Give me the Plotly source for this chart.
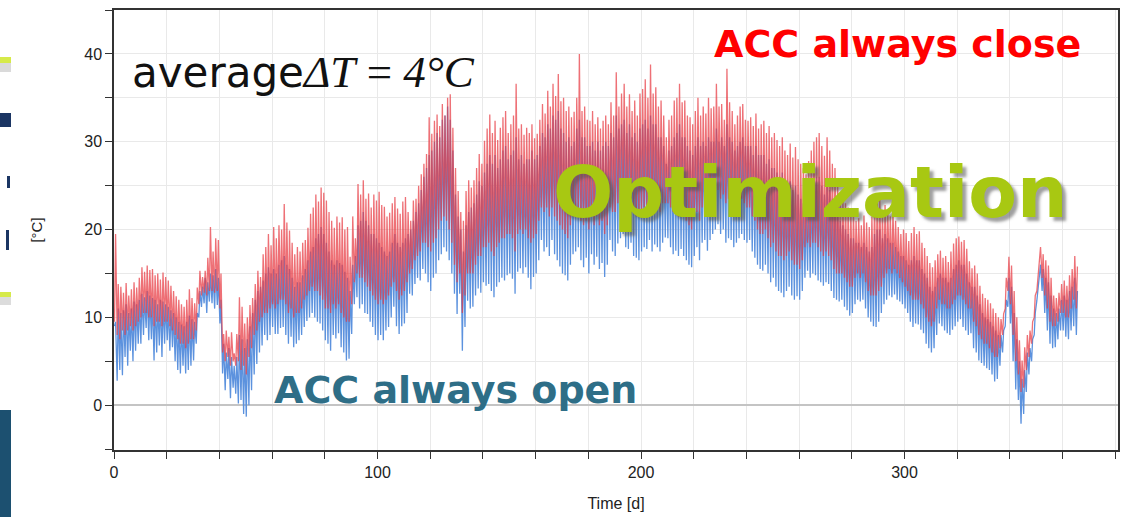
import plotly.graph_objects as go

# ---------------- data (daily extremes) ----------------
red_hi = [
    19.5, 13.8, 13.5, 12.8, 13.9, 12.5, 13.2, 14.0, 13.4, 14.5,
    15.7, 15.2, 15.9, 15.4, 15.5, 14.8, 15.0, 14.3, 15.1, 14.6,
    14.2, 13.6, 13.0, 12.4, 12.0, 11.5, 11.2, 12.0, 13.2, 12.2,
    11.6, 13.4, 15.3, 14.6, 15.3, 16.8, 20.3, 17.5, 19.0, 18.8,
    15.0, 8.1, 8.5, 7.8, 8.3, 5.9, 8.1, 12.3, 11.2, 9.3,
    10.0, 11.4, 12.2, 13.8, 15.3, 14.6, 17.2, 18.0, 19.5, 18.2,
    20.3, 19.0, 20.5, 20.0, 22.9, 20.8, 19.9, 18.5, 17.2, 18.0,
    17.5, 18.5, 18.8, 20.2, 21.8, 22.5, 24.0, 23.2, 24.8, 24.2,
    23.3, 22.0, 21.0, 20.2, 21.5, 20.8, 21.4, 20.0, 20.3, 16.9,
    21.5, 19.0, 25.2, 24.0, 25.6, 23.5, 24.1, 22.5, 24.0, 23.3,
    24.3, 22.8, 22.6, 21.5, 21.9, 23.0, 23.7, 22.4, 21.8, 23.2,
    23.7, 22.0, 21.0, 23.3, 23.5, 25.0, 26.3, 27.5, 28.6, 32.8,
    30.9, 32.4, 33.1, 31.8, 34.3, 33.0, 35.0, 35.4, 31.6, 27.0,
    24.4, 22.0, 21.0, 24.4, 25.6, 24.8, 25.6, 27.0, 28.6, 27.5,
    30.1, 31.5, 33.1, 31.0, 32.4, 30.2, 31.6, 32.8, 33.5, 31.0,
    32.0, 33.0, 36.6, 31.5, 32.0, 30.8, 31.6, 31.0, 32.0, 30.4,
    30.9, 32.5, 34.3, 33.2, 35.8, 34.0, 36.6, 35.2, 37.7, 34.6,
    35.0, 33.5, 34.0, 32.8, 33.4, 35.0, 40.0, 33.5, 34.0, 32.5,
    32.4, 33.5, 32.0, 32.8, 31.5, 32.4, 33.0, 32.0, 34.5, 33.0,
    37.9, 34.0, 35.5, 36.6, 34.0, 35.4, 33.5, 34.7, 33.0, 35.5,
    36.0, 37.1, 35.0, 38.8, 35.5, 36.2, 34.0, 34.7, 33.0, 30.5,
    32.5, 33.0, 34.7, 35.0, 36.6, 34.5, 34.7, 33.0, 32.8, 32.0,
    33.5, 35.0, 33.0, 34.0, 33.2, 35.0, 33.8, 34.0, 36.6, 34.0,
    34.3, 32.5, 38.3, 34.5, 33.5, 32.0, 33.0, 34.0, 34.3, 32.5,
    32.4, 32.8, 31.8, 33.2, 31.5, 32.0, 32.4, 31.0, 31.8, 30.5,
    31.0, 30.2, 29.5, 30.5, 29.0, 28.5, 29.8, 28.2, 29.4, 28.0,
    27.5, 27.0, 26.3, 27.8, 29.0, 30.0, 30.5, 31.0, 29.5, 28.4,
    30.5, 29.0, 27.5, 27.0, 25.5, 24.0, 23.5, 23.0, 22.5, 21.8,
    22.0, 21.0, 21.3, 20.5, 21.6, 20.8, 20.3, 21.5, 23.0, 24.0,
    23.5, 22.0, 22.8, 22.3, 21.5, 22.0, 21.0, 20.3, 19.5, 20.0,
    19.6, 18.7, 19.6, 20.3, 19.5, 19.8, 18.5, 17.9, 17.0, 16.2,
    15.7, 16.5, 17.2, 17.6, 16.8, 17.0, 16.3, 17.5, 18.4, 19.0,
    19.2, 18.6, 18.8, 17.8, 16.4, 15.6, 15.9, 15.0, 13.6, 12.7,
    12.2, 12.0, 11.6, 11.0, 10.5, 10.0, 9.8, 10.4, 14.5, 16.9,
    15.9, 13.0, 10.0, 7.4, 5.1, 6.6, 8.0, 8.5, 9.5, 12.5,
    14.5, 18.0, 17.2, 16.5, 15.9, 14.5, 12.5, 12.2, 12.8, 13.8,
    14.2, 13.6, 14.8, 15.5, 17.0, 15.8,
]

red_lo = [
    9.5, 8.0, 7.5, 8.5, 8.0, 8.5, 9.0, 8.5, 9.0, 9.5,
    10.0, 10.5, 10.5, 10.0, 10.0, 9.0, 9.5, 9.5, 9.0, 9.5,
    9.5, 9.0, 8.5, 8.0, 7.5, 7.0, 7.0, 6.5, 7.0, 7.5,
    7.5, 8.5, 11.5, 12.5, 12.8, 12.5, 13.0, 13.0, 12.8, 13.0,
    11.0, 6.0, 5.0, 5.5, 4.5, 5.0, 4.5, 5.0, 4.0, 4.5,
    3.5, 5.5, 6.5, 8.0, 8.5, 9.5, 10.0, 10.5, 10.5, 11.0,
    11.5, 11.0, 11.5, 12.0, 12.0, 11.5, 10.5, 11.0, 10.0, 10.5,
    10.5, 11.0, 12.0, 12.5, 13.0, 13.5, 13.0, 13.0, 12.5, 12.0,
    11.0, 11.0, 10.5, 11.5, 11.0, 11.5, 10.5, 10.0, 9.5, 9.5,
    11.5, 14.0, 15.0, 14.5, 14.5, 14.0, 13.5, 13.0, 12.5, 12.0,
    11.5, 12.0, 11.5, 12.0, 12.5, 13.5, 14.0, 13.0, 12.0, 12.5,
    13.0, 14.0, 15.0, 15.5, 16.5, 17.0, 17.5, 18.5, 18.5, 18.0,
    17.5, 18.5, 19.0, 20.0, 21.0, 21.5, 21.0, 20.0, 18.5, 16.0,
    14.0, 15.0, 10.5, 12.5, 15.0, 15.0, 15.0, 16.0, 17.0, 17.0,
    18.0, 18.0, 18.5, 17.5, 17.0, 18.0, 18.5, 19.0, 19.0, 19.5,
    19.5, 19.0, 17.5, 19.5, 20.0, 19.5, 20.0, 19.0, 18.5, 19.0,
    19.5, 21.0, 22.5, 22.0, 22.5, 21.5, 22.5, 21.5, 21.0, 20.5,
    20.0, 19.5, 19.0, 20.5, 21.5, 22.0, 22.5, 21.0, 20.5, 21.0,
    20.0, 21.5, 20.5, 21.5, 20.5, 21.0, 19.5, 20.5, 22.5, 22.0,
    22.0, 23.0, 23.5, 24.0, 22.5, 22.5, 23.0, 22.0, 21.5, 21.5,
    22.0, 22.5, 22.5, 23.0, 22.0, 23.0, 22.5, 22.0, 23.0, 23.0,
    23.0, 22.5, 22.0, 22.0, 21.5, 22.0, 21.5, 21.0, 20.5, 20.0,
    21.5, 22.0, 21.0, 22.5, 23.0, 22.0, 23.0, 23.5, 24.0, 24.5,
    23.5, 24.0, 23.0, 23.5, 23.0, 22.5, 22.5, 23.0, 23.5, 23.0,
    22.5, 22.5, 21.5, 21.0, 20.0, 19.5, 19.5, 20.0, 19.0, 18.0,
    18.5, 17.5, 17.0, 17.0, 16.5, 17.0, 17.5, 16.5, 16.0, 16.0,
    15.5, 16.5, 18.0, 18.5, 18.0, 18.5, 18.5, 18.0, 17.5, 17.0,
    17.5, 17.0, 16.5, 15.5, 15.0, 15.0, 15.0, 14.5, 14.0, 13.5,
    13.5, 14.5, 15.0, 14.5, 15.0, 14.0, 13.0, 12.5, 12.5, 12.5,
    13.0, 13.5, 14.5, 15.0, 15.5, 15.0, 15.5, 15.0, 14.5, 14.0,
    13.5, 13.0, 12.5, 12.0, 12.0, 12.0, 11.5, 11.0, 10.0, 9.5,
    9.0, 9.5, 11.0, 12.0, 11.5, 11.5, 11.0, 11.0, 11.5, 12.0,
    12.5, 12.5, 12.0, 11.5, 11.0, 11.0, 9.5, 9.0, 8.0, 7.5,
    7.0, 7.0, 6.5, 6.0, 5.5, 5.5, 6.5, 8.0, 11.0, 13.0,
    11.5, 8.0, 5.0, 3.5, 1.5, 2.0, 4.0, 5.5, 7.0, 10.0,
    13.0, 16.0, 14.5, 12.5, 11.0, 9.5, 9.0, 9.0, 9.5, 10.5,
    10.5, 10.0, 10.0, 11.0, 12.0, 11.0,
]

blue_hi = [
    9.5, 11.0, 10.5, 10.8, 11.5, 10.5, 11.0, 11.8, 11.5, 12.0,
    12.7, 12.3, 13.0, 12.5, 12.2, 12.0, 11.5, 12.0, 11.8, 11.5,
    11.2, 10.8, 10.5, 10.0, 9.5, 9.2, 9.0, 9.5, 10.2, 9.8,
    9.5, 10.5, 13.0, 13.5, 14.5, 14.0, 15.0, 14.8, 15.5, 14.5,
    12.0, 7.0, 6.0, 6.5, 5.5, 4.5, 5.5, 8.0, 7.5, 6.5,
    7.5, 9.0, 10.5, 12.0, 13.0, 13.5, 14.2, 15.0, 15.7, 15.0,
    15.5, 15.0, 16.0, 16.5, 17.0, 16.0, 15.5, 14.5, 13.5, 14.0,
    14.0, 14.8, 15.5, 16.5, 17.5, 18.0, 19.0, 19.5, 20.3, 19.5,
    18.5, 17.5, 16.5, 16.0, 16.5, 16.2, 16.0, 15.2, 14.5, 13.0,
    16.0, 17.0, 20.5, 21.0, 22.0, 21.0, 20.5, 19.5, 19.5, 19.0,
    18.5, 18.0, 17.5, 17.0, 17.5, 18.5, 19.5, 18.5, 18.0, 18.5,
    19.0, 19.5, 20.0, 21.0, 22.0, 23.0, 24.5, 26.0, 27.0, 28.5,
    29.0, 30.0, 31.0, 30.5, 32.5, 33.0, 34.0, 32.5, 29.0, 24.0,
    21.5, 20.0, 17.5, 20.5, 22.0, 22.5, 23.0, 24.0, 25.5, 25.0,
    26.5, 27.5, 28.5, 27.5, 28.5, 27.0, 28.0, 29.0, 29.5, 28.0,
    28.5, 29.0, 30.5, 28.0, 28.5, 27.5, 28.0, 28.0, 29.0, 28.0,
    28.5, 29.5, 31.0, 30.5, 32.0, 31.5, 33.0, 32.5, 33.5, 31.5,
    31.0, 30.0, 30.5, 29.5, 30.0, 31.5, 32.5, 30.5, 30.5, 29.5,
    29.5, 30.0, 29.0, 30.0, 29.0, 29.5, 30.0, 29.5, 31.0, 30.5,
    33.0, 31.5, 32.0, 32.5, 31.0, 32.0, 30.5, 31.0, 30.0, 31.5,
    32.0, 32.5, 31.5, 33.0, 32.0, 32.0, 30.5, 30.5, 29.5, 27.5,
    29.0, 29.5, 30.5, 31.0, 32.0, 30.5, 30.5, 29.5, 29.0, 28.5,
    29.5, 30.5, 29.5, 30.0, 29.5, 30.5, 30.0, 30.0, 31.5, 30.0,
    30.5, 29.5, 32.0, 30.5, 30.0, 29.0, 29.5, 30.0, 30.5, 29.5,
    29.5, 29.5, 28.5, 29.5, 28.5, 28.5, 28.5, 27.5, 28.0, 27.0,
    27.0, 26.5, 26.0, 26.5, 25.5, 25.0, 25.5, 24.5, 25.0, 24.0,
    23.5, 23.0, 22.5, 23.5, 24.5, 25.5, 26.0, 26.0, 25.0, 24.0,
    25.5, 24.5, 23.5, 23.0, 22.0, 21.0, 20.5, 20.0, 19.5, 19.0,
    19.0, 18.5, 18.5, 18.0, 18.5, 18.0, 17.5, 18.0, 19.5, 20.0,
    20.0, 19.0, 19.5, 19.0, 18.5, 18.5, 18.0, 17.5, 17.0, 17.0,
    16.5, 16.0, 16.5, 17.0, 16.5, 16.5, 15.5, 15.0, 14.5, 13.5,
    13.0, 13.5, 14.5, 15.0, 14.5, 14.5, 14.0, 14.5, 15.5, 16.0,
    16.5, 16.0, 16.0, 15.0, 14.0, 13.5, 13.5, 12.5, 11.5, 10.5,
    10.0, 9.8, 9.5, 9.0, 8.5, 8.0, 8.0, 8.5, 12.0, 14.5,
    13.5, 10.5, 7.5, 5.0, 3.0, 4.0, 6.0, 6.5, 7.5, 10.5,
    13.0, 16.0, 15.5, 14.5, 14.0, 12.5, 11.0, 10.5, 11.0, 12.0,
    12.5, 12.0, 13.0, 13.5, 14.5, 13.0,
]

blue_lo = [
    9.0, 2.8, 4.0, 3.4, 5.5, 4.5, 6.2, 5.0, 6.2, 7.0,
    7.0, 8.0, 8.8, 7.4, 7.5, 5.1, 6.0, 6.8, 5.5, 7.0,
    7.4, 6.2, 6.6, 5.0, 4.0, 3.6, 4.5, 3.6, 4.0, 4.5,
    5.1, 7.0, 10.0, 11.2, 11.6, 10.5, 11.8, 11.6, 11.0, 11.4,
    9.3, 3.6, 1.7, 3.0, 0.8, 2.0, 1.3, 0.2, 0.6, -1.0,
    -1.3, 0.0, 1.7, 3.5, 4.7, 6.0, 6.8, 8.0, 7.4, 8.0,
    8.9, 8.1, 8.1, 8.8, 8.9, 8.0, 7.0, 7.8, 6.6, 7.0,
    7.4, 8.0, 8.9, 9.6, 10.0, 10.5, 10.0, 9.5, 9.3, 8.5,
    7.4, 7.0, 6.2, 8.0, 7.6, 8.2, 6.6, 6.0, 5.1, 5.3,
    8.1, 11.5, 12.3, 11.0, 11.5, 10.5, 10.4, 9.5, 8.9, 8.0,
    7.4, 8.0, 7.4, 8.5, 8.9, 10.0, 11.2, 9.0, 8.1, 9.0,
    9.3, 10.5, 12.7, 12.5, 13.8, 14.5, 14.2, 15.5, 15.0, 14.0,
    13.0, 14.5, 15.0, 16.5, 17.2, 18.0, 17.5, 16.5, 15.0, 12.7,
    10.4, 12.7, 6.2, 8.9, 11.9, 11.0, 11.2, 12.5, 13.3, 12.8,
    14.0, 13.6, 13.8, 13.0, 12.3, 13.5, 14.0, 14.5, 14.2, 14.8,
    15.0, 14.4, 12.7, 15.2, 15.6, 15.0, 15.7, 14.5, 13.2, 14.6,
    15.0, 16.5, 18.8, 17.5, 18.0, 17.0, 18.8, 17.2, 16.5, 15.8,
    15.0, 14.8, 14.2, 16.0, 17.2, 17.5, 18.0, 16.5, 15.7, 16.8,
    15.0, 17.2, 16.0, 16.9, 15.5, 16.2, 14.6, 16.0, 18.8, 17.5,
    17.0, 18.4, 19.0, 19.5, 18.0, 17.8, 18.5, 17.0, 16.8, 16.5,
    17.5, 18.0, 17.8, 18.8, 17.5, 18.3, 18.0, 17.5, 18.5, 19.1,
    19.0, 18.0, 17.2, 17.6, 17.0, 17.8, 17.0, 16.5, 16.0, 15.7,
    17.0, 18.0, 16.5, 18.5, 18.8, 17.6, 18.8, 19.5, 20.0, 20.6,
    19.5, 20.0, 18.5, 19.0, 18.8, 18.0, 18.5, 19.0, 19.5, 18.8,
    18.5, 18.8, 17.5, 16.8, 16.0, 15.5, 15.3, 16.0, 15.0, 14.0,
    14.5, 13.5, 13.0, 12.8, 12.3, 13.0, 13.5, 12.5, 12.0, 12.4,
    12.0, 13.0, 14.5, 15.3, 14.5, 15.0, 14.8, 14.2, 14.0, 13.6,
    14.0, 13.8, 13.0, 12.2, 12.0, 11.8, 12.0, 11.2, 10.8, 10.2,
    10.5, 11.5, 12.0, 11.8, 12.0, 11.0, 10.0, 9.5, 9.0, 8.9,
    9.5, 10.5, 11.5, 12.0, 12.5, 12.3, 12.6, 12.0, 11.8, 11.5,
    11.0, 10.5, 9.5, 8.9, 9.3, 9.2, 8.6, 8.2, 7.0, 6.5,
    6.0, 6.5, 8.0, 9.3, 9.0, 8.5, 8.2, 8.0, 8.6, 9.0,
    9.5, 9.8, 8.9, 8.5, 8.0, 8.2, 6.5, 6.0, 5.1, 4.8,
    4.5, 4.2, 4.0, 3.5, 2.7, 3.0, 4.5, 6.0, 9.0, 11.2,
    9.3, 5.0, 1.8, 0.6, -2.1, -1.0, 1.5, 3.5, 5.0, 8.0,
    11.9, 15.0, 13.0, 10.5, 8.5, 7.0, 6.5, 6.6, 7.5, 8.5,
    8.5, 7.8, 7.5, 8.5, 9.0, 8.0,
]

x_ticks = [0, 100, 200, 300]
y_ticks = [0, 10, 20, 30, 40]


def day_profile(lo, hi):
    """One low (early morning) and one high (afternoon) sample per day."""
    xs, ys = [], []
    for d, (a, b) in enumerate(zip(lo, hi)):
        xs += [d + 0.2, d + 0.6]
        ys += [a, b]
    return xs, ys


bx, by = day_profile(blue_lo, blue_hi)
rx, ry = day_profile(red_lo, red_hi)

fig = go.Figure()
fig.add_trace(go.Scatter(x=bx, y=by, mode="lines",
                         line=dict(color="rgb(92,146,222)", width=1.3),
                         name="ACC always open", showlegend=False))
fig.add_trace(go.Scatter(x=rx, y=ry, mode="lines",
                         line=dict(color="rgb(232,58,66)", width=1.3),
                         opacity=0.72,
                         name="ACC always close", showlegend=False))

grid = "#e9e9e9"
sans = "Liberation Sans, Arial, sans-serif"
tickfont = dict(family=sans, size=16, color="#222")

fig.update_layout(
    width=1122, height=517,
    margin=dict(l=114, r=4, t=10, b=67, autoexpand=False),
    paper_bgcolor="white", plot_bgcolor="white",
    xaxis=dict(
        range=[0, 381], tickvals=x_ticks, ticks="outside", ticklen=7,
        tickcolor="#333", showgrid=True, gridcolor=grid,
        minor=dict(dtick=20, tick0=0, ticks="outside", ticklen=7,
                   tickcolor="#333", showgrid=True, gridcolor=grid),
        showline=True, linecolor="#333", linewidth=1.5, mirror=True,
        zeroline=False, tickfont=tickfont, automargin=False,
        title=dict(text="Time [d]", font=dict(family=sans, size=16, color="#222"),
                   standoff=18),
    ),
    yaxis=dict(
        range=[-5.1, 45], tickvals=y_ticks, ticks="outside", ticklen=7,
        tickcolor="#333", showgrid=True, gridcolor=grid,
        minor=dict(dtick=5, tick0=0, ticks="outside", ticklen=7,
                   tickcolor="#333", showgrid=True, gridcolor=grid),
        showline=True, linecolor="#333", linewidth=1.5, mirror=True,
        zeroline=True, zerolinecolor="#c4c4c4", zerolinewidth=1.5,
        tickfont=tickfont, automargin=False,
        title=dict(text="[°C]", font=dict(family=sans, size=15, color="#222"),
                   standoff=38),
    ),
)


# slide decorations visible on the left edge (pixel -> paper coordinates)
def px_x(p):
    return (p - 114) / 1004.0


def px_y(p):
    return (450 - p) / 440.0


def strip(x0, x1, y0, y1, color):
    return dict(type="rect", xref="paper", yref="paper",
                x0=px_x(x0), x1=px_x(x1), y0=px_y(y1), y1=px_y(y0),
                fillcolor=color, line_width=0, layer="above")


shapes = [
    strip(0, 11, 57, 63, "#d6ea4a"),
    strip(0, 11, 63, 72, "#dadada"),
    strip(0, 11, 113, 127, "#1b3563"),
    strip(7, 10, 176, 188, "#1b3563"),
    strip(6, 9, 230, 250, "#1b3563"),
    strip(0, 11, 292, 297, "#d6ea4a"),
    strip(0, 11, 297, 305, "#dcdcdc"),
    strip(0, 11, 410, 517, "#1c5070"),
]
fig.update_layout(shapes=shapes)

geo = "DejaVu Sans, Verdana, sans-serif"
ann = [
    dict(text="average<span style='font-family:Liberation Serif, DejaVu Serif, serif;"
              "font-size:45px'><i>ΔT</i> = <i>4°C</i></span>",
         x=px_x(130), y=px_y(72), xanchor="left", yanchor="middle",
         font=dict(family=geo, size=42, color="#111")),
    dict(text="<b>ACC always close</b>", x=px_x(897), y=px_y(44),
         xanchor="center", yanchor="middle",
         font=dict(family=geo, size=38, color="#ff0000")),
    dict(text="<b>Optimization</b>", x=px_x(810), y=px_y(192),
         xanchor="center", yanchor="middle",
         font=dict(family=geo, size=71, color="#a8c812",
                   shadow="4px 4px 3px rgba(80,80,80,0.55)")),
    dict(text="<b>ACC always open</b>", x=px_x(455), y=px_y(390),
         xanchor="center", yanchor="middle",
         font=dict(family=geo, size=38, color="#2e6e87")),
]
for a in ann:
    a.update(xref="paper", yref="paper", showarrow=False)
fig.update_layout(annotations=ann)

# the page is photographed edge to edge: drop the browser's default body margin
fig.write_html("out.html",
               config={"displayModeBar": False},
               post_script="document.body.style.margin='0';document.body.style.padding='0';")
